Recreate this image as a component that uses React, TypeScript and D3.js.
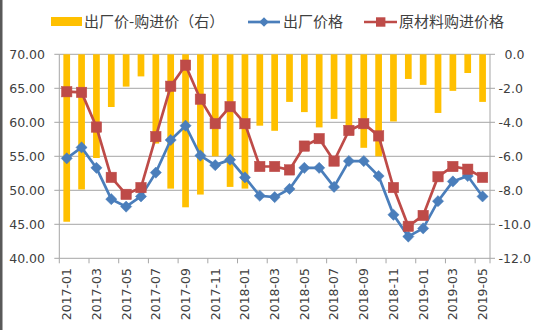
import React from "react";
import * as d3 from "d3";

const months = [
  "2017-01","2017-02","2017-03","2017-04","2017-05","2017-06","2017-07","2017-08","2017-09","2017-10","2017-11","2017-12",
  "2018-01","2018-02","2018-03","2018-04","2018-05","2018-06","2018-07","2018-08","2018-09","2018-10","2018-11","2018-12",
  "2019-01","2019-02","2019-03","2019-04","2019-05",
];
const diffValues = [
  -9.85, -7.95, -6.1, -3.1, -1.9, -1.3, -5.25, -7.9, -9.0, -8.25, -6.0, -7.8,
  -7.9, -4.2, -4.5, -2.8, -3.4, -4.3, -3.8, -4.45, -5.5, -6.0, -3.95, -1.45,
  -1.8, -3.45, -2.15, -1.1, -2.8,
];
const factoryPrice = [
  54.7, 56.3, 53.3, 48.7, 47.6, 49.1, 52.6, 57.4, 59.5, 55.1, 53.7, 54.5,
  51.9, 49.2, 49.0, 50.2, 53.3, 53.3, 50.5, 54.3, 54.3, 52.1, 46.4, 43.2,
  44.4, 48.4, 51.3, 52.1, 49.1,
];
const purchasePrice = [
  64.5, 64.4, 59.3, 51.9, 49.4, 50.4, 57.9, 65.3, 68.4, 63.4, 59.8, 62.3,
  59.8, 53.5, 53.5, 53.0, 56.5, 57.6, 54.3, 58.8, 59.8, 58.0, 50.4, 44.7,
  46.3, 52.0, 53.5, 53.1, 51.9,
];
const leftTicks = [40, 45, 50, 55, 60, 65, 70];
const rightTicks = [-12, -10, -8, -6, -4, -2, 0];
const legendLabels = ["出厂价-购进价（右）", "出厂价格", "原材料购进价格"];

const W = 550, H = 330;
const plotL = 59.3, plotR = 490, plotT = 54.3, plotB = 258.3;
const textColor = "#404040";
const gridColor = "#A6A6A6";
const font = "'DejaVu Sans', sans-serif";
const cjk = "'Noto Sans CJK SC', sans-serif";
const barColor = "#FFC000";
const blue = "#4A7EBB";
const red = "#BE4B48";

export default function App() {
  const step = (plotR - plotL) / months.length;
  const cx = (m: string) => plotL + step * (months.indexOf(m) + 0.5);
  const yL = d3.scaleLinear().domain([40, 70]).range([plotB, plotT]);
  const yR = d3.scaleLinear().domain([-12, 0]).range([plotB, plotT]);
  const bw = 6.7;

  const lineBlue = d3.line<number>().x((_, i) => cx(months[i])).y((d) => yL(d));
  const lineRed = d3.line<number>().x((_, i) => cx(months[i])).y((d) => yL(d));

  const diamond = (px: number, py: number, r: number) =>
    `M${px},${py - r}L${px + r},${py}L${px},${py + r}L${px - r},${py}Z`;

  return (
    <div style={{ position: "fixed", left: 0, top: 0, width: W, height: H, background: "#fff" }}>
      <svg width={W} height={H} style={{ display: "block" }}>
        <rect x={0} y={0} width={W} height={H} fill="#fff" />
        <rect x={0} y={0} width={2.5} height={H} fill="#595959" />
        {leftTicks.map((t) => (
          <line key={"g" + t} x1={plotL} x2={plotR} y1={yL(t)} y2={yL(t)} stroke={gridColor} strokeWidth={1} />
        ))}
        <line x1={plotL} x2={plotL} y1={plotT} y2={plotB} stroke={gridColor} />
        <line x1={plotR} x2={plotR} y1={plotT} y2={plotB} stroke={gridColor} />
        {leftTicks.map((t) => (
          <g key={"lt" + t}>
            <line x1={plotL - 5} x2={plotL} y1={yL(t)} y2={yL(t)} stroke={gridColor} />
            <text x={45} y={yL(t)} dy="0.35em" textAnchor="end" fontSize={12.5} fontFamily={font} fill={textColor}>
              {t.toFixed(2)}
            </text>
          </g>
        ))}
        {rightTicks.map((t) => (
          <g key={"rt" + t}>
            <line x1={plotR} x2={plotR + 5} y1={yR(t)} y2={yR(t)} stroke={gridColor} />
            <text x={t < 0 ? 498.5 : 504.5} y={yR(t)} dy="0.35em" textAnchor="start" fontSize={12.5} fontFamily={font} fill={textColor}>
              {t.toFixed(1)}
            </text>
          </g>
        ))}
        {months.map((m, i) =>
          i % 2 === 0 ? (
            <line key={"xt" + m} x1={plotL + step * i} x2={plotL + step * i} y1={plotB} y2={plotB + 5} stroke={gridColor} />
          ) : null
        )}
        <line x1={plotR} x2={plotR} y1={plotB} y2={plotB + 5} stroke={gridColor} />
        {months.map((m, i) =>
          i % 2 === 0 ? (
            <text
              key={"xl" + m}
              transform={`translate(${cx(m)},268) rotate(-90)`}
              dy="0.35em"
              textAnchor="end"
              fontSize={12.5}
              fontFamily={font}
              fill={textColor}
            >
              {m}
            </text>
          ) : null
        )}
        {diffValues.map((v, i) => (
          <rect key={"b" + i} x={cx(months[i]) - bw / 2} y={yR(0)} width={bw} height={yR(v) - yR(0)} fill={barColor} />
        ))}
        <path d={lineBlue(factoryPrice) || ""} fill="none" stroke={blue} strokeWidth={2.7} />
        {factoryPrice.map((v, i) => (
          <path key={"d" + i} d={diamond(cx(months[i]), yL(v), 5.6)} fill={blue} stroke={blue} strokeWidth={0.5} />
        ))}
        <path d={lineRed(purchasePrice) || ""} fill="none" stroke={red} strokeWidth={2.7} />
        {purchasePrice.map((v, i) => (
          <rect key={"s" + i} x={cx(months[i]) - 5.2} y={yL(v) - 5.2} width={10.4} height={10.4} fill={red} stroke={red} strokeWidth={0.5} />
        ))}
        <rect x={51} y={17} width={31} height={9} fill={barColor} />
        <text x={84} y={22} dy="0.35em" fontSize={15} fontFamily={cjk} fill={textColor}>{legendLabels[0]}</text>
        <line x1={248} x2={280} y1={22} y2={22} stroke={blue} strokeWidth={2.7} />
        <path d={diamond(264, 22, 4.8)} fill={blue} />
        <text x={283} y={22} dy="0.35em" fontSize={15} fontFamily={cjk} fill={textColor}>{legendLabels[1]}</text>
        <line x1={364} x2={397} y1={22} y2={22} stroke={red} strokeWidth={2.7} />
        <rect x={376} y={17.3} width={9.4} height={9.4} fill={red} />
        <text x={399} y={22} dy="0.35em" fontSize={15} fontFamily={cjk} fill={textColor}>{legendLabels[2]}</text>
      </svg>
    </div>
  );
}
